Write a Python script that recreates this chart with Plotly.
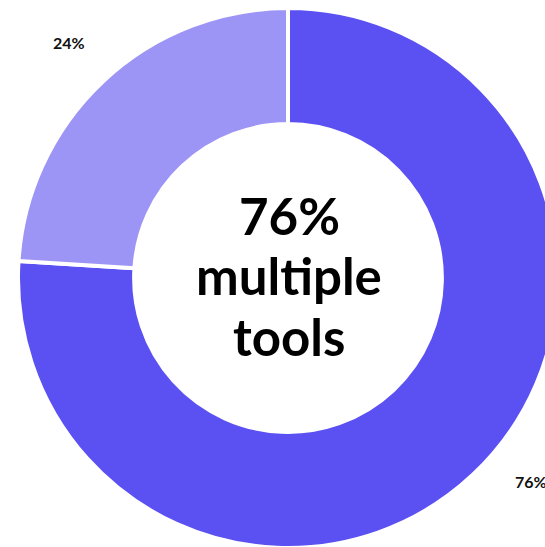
import plotly.graph_objects as go

# data
categories = ["Multiple tools", "Single tool"]
shares = [76, 24]
slice_colors = ["#5B50F1", "#9D95F5"]
center_lines = ["76%", "multiple", "tools"]

fig = go.Figure(
    go.Pie(
        labels=categories,
        values=shares,
        hole=0.57,
        sort=False,
        direction="clockwise",
        rotation=0,
        textinfo="none",
        hoverinfo="label+percent",
        marker=dict(colors=slice_colors, line=dict(color="white", width=4)),
        showlegend=False,
    )
)

FONT = "Lato"
annotations = []
# slice labels (outside)
label_pos = [(0.9167, 0.124, "left"), (0.0944, 0.937, "center")]
for (x, y, xa), v in zip(label_pos, shares):
    annotations.append(dict(
        x=x, y=y, xref="paper", yref="paper", xanchor=xa, yanchor="middle",
        text=f"<b>{v}%</b>", showarrow=False,
        font=dict(family=FONT, size=16, color="#111111"),
    ))
# center text
center_y = [0.615, 0.505, 0.391]
for t, y in zip(center_lines, center_y):
    annotations.append(dict(
        x=0.502, y=y, xref="paper", yref="paper", xanchor="center", yanchor="middle",
        text=f"<b>{t}</b>", showarrow=False,
        font=dict(family=FONT, size=51, color="#000000"),
    ))

fig.update_layout(
    width=558, height=548,
    margin=dict(l=18, r=0, t=8, b=0, pad=0),
    paper_bgcolor="white", plot_bgcolor="white",
    annotations=annotations,
)

fig.write_html(
    "out.html",
    config={"displayModeBar": False},
    post_script=(
        "document.body.style.margin='0';"
        "document.body.style.overflow='hidden';"
        "document.documentElement.style.overflow='hidden';"
    ),
)
